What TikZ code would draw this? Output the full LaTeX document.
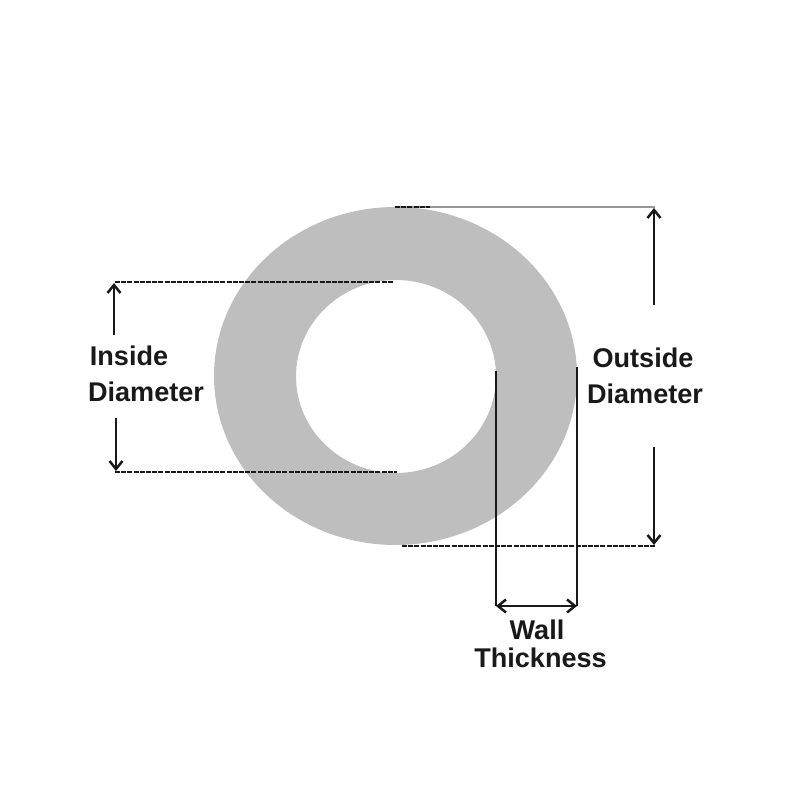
\documentclass[tikz,border=0pt]{standalone}
\usepackage{fontspec}
\setmainfont{Liberation Sans}
\usetikzlibrary{arrows.meta}
\definecolor{ringgray}{RGB}{190,190,190}
\definecolor{toplinegray}{RGB}{150,150,150}
\tikzset{
    dimline/.style={line width=0.25mm,draw=black!90},
    dashline/.style={dimline,dash pattern=on 0.05cm off 0.012cm},
    barbtip/.tip={Straight Barb[length=0.08cm,width=0.13cm]},
    dimarrow/.style={dimline,-barbtip},
    dimlabel/.style={font=\bfseries\fontsize{7.7}{10}\selectfont,inner sep=0pt,text=black!90}
}
\begin{document}
\begin{tikzpicture}[scale=1]
\useasboundingbox (0,0) rectangle (8,8);

\filldraw [fill=ringgray,draw=none,even odd rule] (3.955,4.24) ellipse [x radius=1.815,y radius=1.69] (3.96,4.235) ellipse [x radius=1.0,y radius=0.965];

\coordinate (outTop) at (3.95,5.93);
\coordinate (outTopEnd) at (4.30,5.93);
\coordinate (outRight) at (6.55,5.93);
\coordinate (outBot) at (4.02,2.54);
\coordinate (outBotRight) at (6.55,2.54);
\coordinate (outUp) at (6.54,4.95);
\coordinate (outUpTip) at (6.54,5.92);
\coordinate (outDown) at (6.54,3.53);
\coordinate (outDownTip) at (6.54,2.55);
\coordinate (inTopL) at (1.15,5.18);
\coordinate (inTopR) at (3.93,5.18);
\coordinate (inBotL) at (1.15,3.28);
\coordinate (inBotR) at (3.97,3.28);
\coordinate (inUp) at (1.14,4.65);
\coordinate (inUpTip) at (1.14,5.17);
\coordinate (inDown) at (1.16,3.82);
\coordinate (inDownTip) at (1.16,3.29);
\coordinate (wallA) at (4.96,4.29);
\coordinate (wallAEnd) at (4.96,1.94);
\coordinate (wallB) at (5.77,4.33);
\coordinate (wallBEnd) at (5.77,1.94);

% top line is gray apart from its start
\draw[line width=0.25mm,draw=toplinegray] (outTop) -- (outRight);
\draw[dashline] (outTop) -- (outTopEnd);
\draw[dashline] (outBot) -- (outBotRight);
\draw[dashline] (inTopL) -- (inTopR);
\draw[dashline] (inBotL) -- (inBotR);

\draw[dimarrow] (outUp) -- (outUpTip);
\draw[dimarrow] (outDown) -- (outDownTip);
\draw[dimarrow] (inUp) -- (inUpTip);
\draw[dimarrow] (inDown) -- (inDownTip);

\draw[dimline] (wallA) -- (wallAEnd);
\draw[dimline] (wallB) -- (wallBEnd);
\draw[dimline,barbtip-barbtip] (wallAEnd) -- (wallBEnd);

\node[dimlabel] (inside) at (1.29,4.44) {Inside};
\node[dimlabel] (insideDia) at (1.46,4.08) {Diameter};
\node[dimlabel] (outside) at (6.43,4.42) {Outside};
\node[dimlabel] (outsideDia) at (6.45,4.06) {Diameter};
\node[dimlabel] (wall) at (5.37,1.70) {Wall};
\node[dimlabel] (thick) at (5.405,1.42) {Thickness};
\end{tikzpicture}
\end{document}
